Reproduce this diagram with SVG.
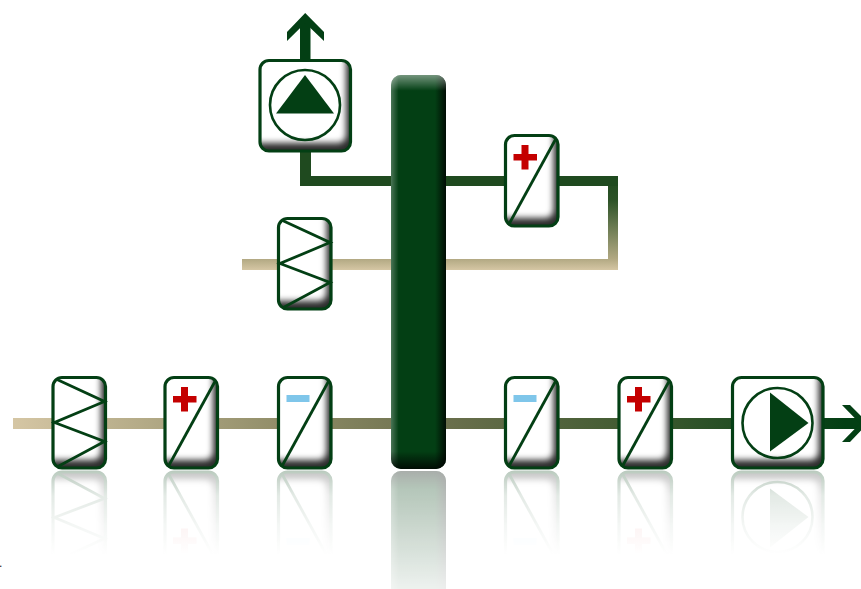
<svg xmlns="http://www.w3.org/2000/svg" xmlns:xlink="http://www.w3.org/1999/xlink" width="861" height="589" viewBox="0 0 861 589">
<style>
.frame{fill:none;stroke:#033f14;stroke-width:3.2}
.sym{fill:none;stroke:#033f14;stroke-width:2.8}
.solid{fill:#033f14}
.thin{fill:none;stroke:#033f14;stroke-width:2.6}
.dk{fill:#033f14}
.dot{font-family:"Liberation Sans",Arial,sans-serif;font-size:12px;fill:#222}
</style>
<defs>
<linearGradient id="main" gradientUnits="userSpaceOnUse" x1="13" y1="0" x2="845" y2="0">
<stop offset="0" stop-color="#d5c6a4"/><stop offset=".33" stop-color="#8f8c67"/><stop offset=".52" stop-color="#6a6f4c"/><stop offset=".76" stop-color="#3e5a30"/><stop offset="1" stop-color="#033f14"/>
</linearGradient>
<linearGradient id="loop" gradientUnits="userSpaceOnUse" x1="0" y1="176" x2="0" y2="270">
<stop offset="0" stop-color="#1f4a1f"/><stop offset=".25" stop-color="#2c5227"/><stop offset=".88" stop-color="#b1a882"/><stop offset="1" stop-color="#d5c6a4"/>
</linearGradient>
<linearGradient id="barH" x1="0" y1="0" x2="1" y2="0">
<stop offset="0" stop-color="#fff" stop-opacity=".28"/><stop offset=".14" stop-color="#fff" stop-opacity="0"/><stop offset=".8" stop-color="#000" stop-opacity="0"/><stop offset="1" stop-color="#000" stop-opacity=".8"/>
</linearGradient>
<linearGradient id="barV" gradientUnits="userSpaceOnUse" x1="0" y1="75" x2="0" y2="469">
<stop offset="0" stop-color="#fff" stop-opacity=".45"/><stop offset=".04" stop-color="#fff" stop-opacity="0"/><stop offset=".955" stop-color="#000" stop-opacity="0"/><stop offset="1" stop-color="#000" stop-opacity=".8"/>
</linearGradient>
<linearGradient id="fadeNode" gradientUnits="userSpaceOnUse" x1="0" y1="470" x2="0" y2="555">
<stop offset="0" stop-color="#fff" stop-opacity=".28"/><stop offset=".3" stop-color="#fff" stop-opacity=".11"/><stop offset=".65" stop-color="#fff" stop-opacity=".045"/><stop offset="1" stop-color="#fff" stop-opacity="0"/>
</linearGradient>
<linearGradient id="fadeBar" gradientUnits="userSpaceOnUse" x1="0" y1="470" x2="0" y2="589">
<stop offset="0" stop-color="#fff" stop-opacity=".34"/><stop offset="1" stop-color="#fff" stop-opacity=".07"/>
</linearGradient>
<mask id="mNode" maskUnits="userSpaceOnUse" x="0" y="470" width="861" height="119"><rect x="0" y="470" width="861" height="119" fill="url(#fadeNode)"/></mask>
<mask id="mBar" maskUnits="userSpaceOnUse" x="0" y="470" width="861" height="119"><rect x="0" y="470" width="861" height="119" fill="url(#fadeBar)"/></mask>
<filter id="soft" x="-30%" y="-30%" width="160%" height="160%"><feGaussianBlur stdDeviation="3.4"/></filter>
<clipPath id="cS"><rect x="0" y="0" width="52.5" height="90.5" rx="9"/></clipPath>
<clipPath id="cB"><rect x="0" y="0" width="90.5" height="90.5" rx="9"/></clipPath>
<clipPath id="cBar"><rect x="391" y="75" width="55" height="394" rx="10"/></clipPath>
<g id="small">
<g clip-path="url(#cS)"><rect x="0" y="0" width="52.5" height="90.5" fill="#2c2c2c"/><rect x="-20" y="-20" width="68" height="102.500" rx="8" fill="#fff" filter="url(#soft)"/></g>
<rect class="frame" x="0" y="0" width="52.5" height="90.5" rx="9"/>
</g>
<g id="big">
<g clip-path="url(#cB)"><rect x="0" y="0" width="90.5" height="90.5" fill="#2c2c2c"/><rect x="-20" y="-20" width="106" height="102.500" rx="8" fill="#fff" filter="url(#soft)"/></g>
<rect class="frame" x="0" y="0" width="90.5" height="90.5" rx="9"/>
</g>
<g id="zigzag"><use href="#small"/><polyline class="sym" points="4,2 51.500,24 1.500,45 51.500,64 4,89.500"/></g>
<g id="convPlus"><use href="#small"/><path class="sym" d="M3,89.500 L50.500,3"/><path d="M16,9.5h7v9h8.5v6.5h-8.5v9h-7v-9h-8v-6.500h8z" fill="#c40000"/></g>
<g id="convMinus"><use href="#small"/><path class="sym" d="M3,89.500 L50.500,3"/><rect x="8" y="17.500" width="23" height="7" fill="#7fc6ea"/></g>
<g id="pumpR"><use href="#big"/><circle class="thin" cx="45" cy="45.500" r="35"/><polygon class="solid" points="37.500,15 76,45.500 37.500,74"/></g>
<g id="barShape">
<rect x="391" y="75" width="55" height="394" rx="10" fill="#033f14"/>
<g clip-path="url(#cBar)"><rect x="391" y="75" width="55" height="394" fill="url(#barH)"/><rect x="391" y="75" width="55" height="394" fill="url(#barV)"/></g>
</g>
</defs>
<rect width="861" height="589" fill="#fff"/>
<g id="connectors">
<rect x="13" y="418" width="848" height="11" fill="url(#main)"/>
<polygon class="dk" points="842,405 850,405 868,423 850,442 842,442 860,423.500"/>
<path d="M300,150H311V176H618V270H608V186H300Z" fill="#1f4a1f"/>
<path d="M608,186H618V270H445V259H608Z" fill="url(#loop)"/>
<rect x="242" y="259" width="150" height="11" fill="url(#loop)"/>
<rect x="300" y="20" width="10.500" height="42" class="dk"/>
<polygon class="dk" points="305.200,13 324,32 324,41 305.200,23 287,41 287,32"/>
</g>
<g id="bar"><use href="#barShape"/><g mask="url(#mBar)"><use href="#barShape" transform="matrix(1 0 0 -1 0 940)"/></g></g>
<g id="node-pump-up">
<use href="#big" x="260" y="60.500"/>
<circle class="thin" cx="305" cy="105" r="35"/>
<polygon class="solid" points="305,75 334,113.500 276,113.500"/>
</g>
<g id="node-conv-top"><use href="#convPlus" x="505.500" y="135.500"/></g>
<g id="node-zigzag-mid"><use href="#zigzag" x="278.500" y="218.500"/></g>
<g id="node-zigzag"><use href="#zigzag" x="53" y="377.500"/><g mask="url(#mNode)"><g transform="matrix(1 0 0 -1 0 940)"><use href="#zigzag" x="53" y="377.500"/></g></g></g>
<g id="node-plus-1"><use href="#convPlus" x="165" y="377.500"/><g mask="url(#mNode)"><g transform="matrix(1 0 0 -1 0 940)"><use href="#convPlus" x="165" y="377.500"/></g></g></g>
<g id="node-minus-1"><use href="#convMinus" x="278.500" y="377.500"/><g mask="url(#mNode)"><g transform="matrix(1 0 0 -1 0 940)"><use href="#convMinus" x="278.500" y="377.500"/></g></g></g>
<g id="node-minus-2"><use href="#convMinus" x="505.500" y="377.500"/><g mask="url(#mNode)"><g transform="matrix(1 0 0 -1 0 940)"><use href="#convMinus" x="505.500" y="377.500"/></g></g></g>
<g id="node-plus-2"><use href="#convPlus" x="619" y="377.500"/><g mask="url(#mNode)"><g transform="matrix(1 0 0 -1 0 940)"><use href="#convPlus" x="619" y="377.500"/></g></g></g>
<g id="node-pump-right"><use href="#pumpR" x="732.500" y="377.500"/><g mask="url(#mNode)"><g transform="matrix(1 0 0 -1 0 940)"><use href="#pumpR" x="732.500" y="377.500"/></g></g></g>
<text class="dot" x="-1" y="567">.</text>
</svg>
